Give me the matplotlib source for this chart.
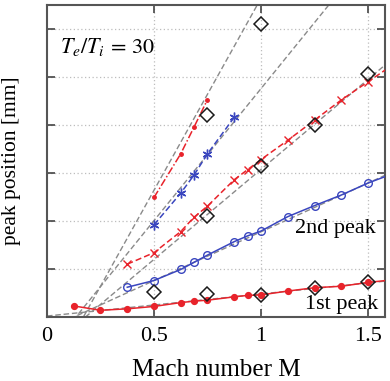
import matplotlib
matplotlib.use("Agg")
import matplotlib.pyplot as plt
import numpy as np

# ---- data ----
mach_1st = [0.125, 0.25, 0.375, 0.5, 0.625, 0.6875, 0.75, 0.875, 0.9375, 1.0, 1.125, 1.25, 1.375, 1.5, 1.625]
pos_1st = [0.23, 0.14, 0.17, 0.22, 0.30, 0.33, 0.35, 0.42, 0.45, 0.46, 0.54, 0.61, 0.64, 0.72, 0.78]

mach_2nd = [0.375, 0.5, 0.625, 0.6875, 0.75, 0.875, 0.9375, 1.0, 1.125, 1.25, 1.375, 1.5, 1.625]
pos_2nd = [0.62, 0.76, 0.99, 1.14, 1.29, 1.57, 1.69, 1.79, 2.09, 2.32, 2.54, 2.79, 3.00]

mach_x = [0.375, 0.5, 0.625, 0.6875, 0.75, 0.875, 0.9375, 1.0, 1.125, 1.25, 1.375, 1.5, 1.625]
pos_x = [1.10, 1.34, 1.78, 2.08, 2.31, 2.86, 3.07, 3.28, 3.68, 4.10, 4.52, 4.90, 5.28]

mach_star = [0.5, 0.625, 0.6875, 0.75, 0.875]
pos_star = [1.92, 2.58, 2.96, 3.40, 4.16]

mach_dd = [0.5, 0.625, 0.6875, 0.75]
pos_dd = [2.49, 3.40, 3.96, 4.53]

mach_sim = [0.5, 0.75, 0.75, 0.75, 1.0, 1.0, 1.0, 1.25, 1.25, 1.5, 1.5]
pos_sim = [0.52, 0.47, 2.10, 4.21, 0.46, 3.15, 6.10, 0.61, 4.00, 0.72, 5.06]

# grey dashed linear fits: y = slope * (M - M0)
fit_slope = [0.46, 2.03, 3.75, 5.5, 8.0]
fit_m0 = [-0.043, 0.126, 0.18, 0.135, 0.17]

xticks = [0, 0.5, 1, 1.5]
xtick_labels = ["0", "0.5", "1", "1.5"]
yticks = [1, 2, 3, 4, 5, 6]

# ---- style ----
plt.rcParams['font.family'] = ['Liberation Serif', 'DejaVu Serif']
plt.rcParams['mathtext.fontset'] = 'stix'

red = '#e8232b'
blue = '#3a46bf'
grey = '#8a8a8a'

fig = plt.figure(figsize=(3.9, 3.81), dpi=100)
ax = fig.add_axes([0.1205, 0.168, 0.867, 0.819])

ax.set_xlim(0, 1.58)
ax.set_ylim(0, 6.5)

# grid
for xv in [0.5, 1.0, 1.5]:
    ax.axvline(xv, color='#bdbdbd', ls=(0, (1, 2)), lw=0.9, zorder=0)
for yv in yticks:
    ax.axhline(yv, color='#bdbdbd', ls=(0, (1, 2)), lw=0.9, zorder=0)

# grey fits
mm = np.linspace(0, 1.6, 200)
for s, m0 in zip(fit_slope, fit_m0):
    ax.plot(mm, s * (mm - m0), color=grey, ls=(0, (4, 2)), lw=1.0, zorder=1)

# series
ax.plot(mach_1st, pos_1st, color=red, ls='-', lw=1.1, marker='o', ms=4.2,
        mfc=red, mec=red, zorder=3)
ax.plot(mach_2nd, pos_2nd, color=blue, ls='-', lw=1.1, marker='o', ms=5.5,
        mfc='none', mec=blue, mew=1.0, zorder=3)
ax.plot(mach_x, pos_x, color=red, ls=(0, (4, 2)), lw=1.1, marker='x', ms=6,
        mec=red, mew=1.0, zorder=3)
ax.plot(mach_star, pos_star, color=blue, ls=(0, (4, 2)), lw=1.1, marker=(6, 2, 0), ms=7,
        mfc=blue, mec=blue, mew=1.0, zorder=3)
ax.plot(mach_dd, pos_dd, color=red, ls=(0, (5, 1.5, 1, 1.5)), lw=1.1, marker='o', ms=2.5,
        mfc=red, mec=red, zorder=3)
ax.plot(mach_sim, pos_sim, ls='none', marker='D', ms=7, mfc='none', mec='#1a1a1a',
        mew=1.1, zorder=4)

# texts
ax.text(0.06, 5.63, r'$T_e/T_i\,=\,30$', fontsize=16, va='center', ha='left')
ax.text(1.535, 1.85, '2nd peak', fontsize=16, va='center', ha='right')
ax.text(1.548, 0.27, '1st peak', fontsize=16, va='center', ha='right')

# ticks
ax.set_xticks(xticks)
ax.set_xticklabels(xtick_labels, fontsize=16)
ax.set_yticks(yticks)
ax.set_yticklabels([])
ax.tick_params(axis='both', direction='in', length=6, width=1.2, color='#444444',
               top=True, right=True, pad=7)
ax.set_xlabel('Mach number M', fontsize=18)
ax.set_ylabel('peak position [mm]', fontsize=15.5)
ax.xaxis.set_label_coords(0.5, -0.135)
ax.yaxis.set_label_coords(-0.077, 0.5)

for sp in ax.spines.values():
    sp.set_color('#555555')
    sp.set_linewidth(1.5)

fig.savefig('out.png', dpi=100)
